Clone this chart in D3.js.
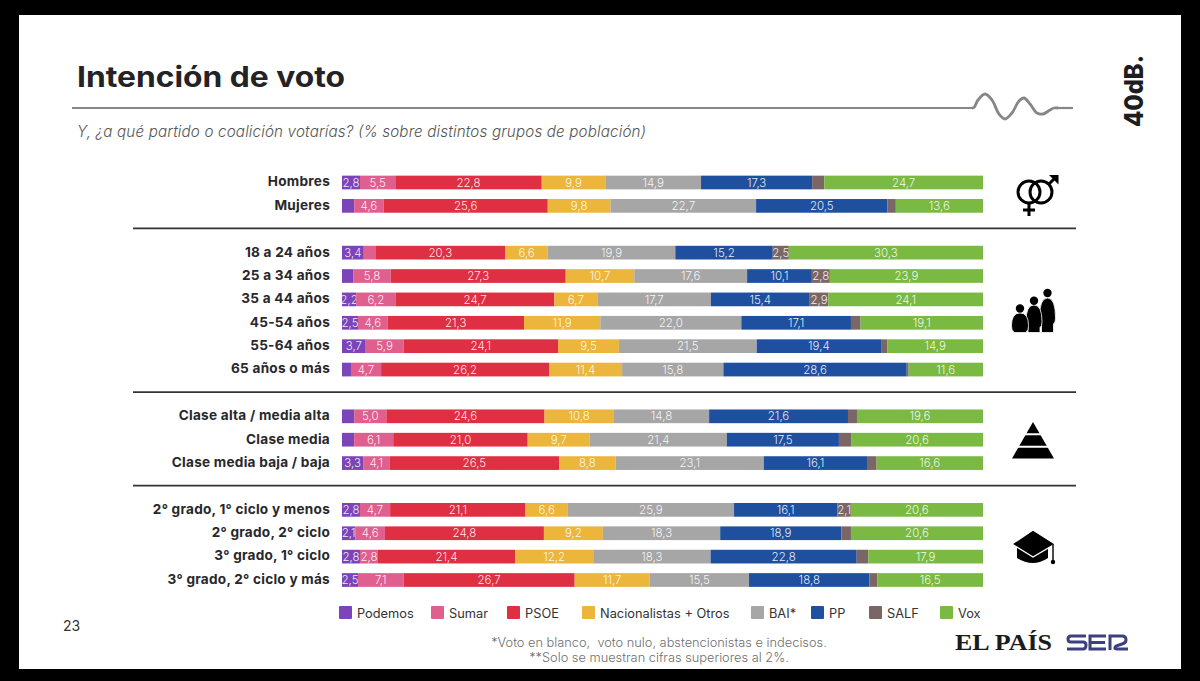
<!DOCTYPE html>
<html lang="es">
<head>
<meta charset="utf-8">
<title>Intención de voto</title>
<script src="https://cdn.jsdelivr.net/npm/d3@7"></script>
<style>
  html, body { margin: 0; padding: 0; background: #000; }
  svg { display: block; font-family: Inter, "Open Sans", sans-serif; }
</style>
</head>
<body>
<div id="chart"></div>
<script>
// Data (decimals as printed, unlabelled segments estimated from width)
const groups = ['Hombres', 'Mujeres', '18 a 24 años', '25 a 34 años', '35 a 44 años', '45-54 años',
  '55-64 años', '65 años o más', 'Clase alta / media alta', 'Clase media', 'Clase media baja / baja',
  '2° grado, 1° ciclo y menos', '2° grado, 2° ciclo', '3° grado, 1° ciclo', '3° grado, 2° ciclo y más'];
const parties = ['Podemos', 'Sumar', 'PSOE', 'Nacionalistas + Otros', 'BAI*', 'PP', 'SALF', 'Vox'];

const podemos = [2.8, 1.9, 3.4, 1.8, 2.2, 2.5, 3.7, 1.4, 1.9, 1.9, 3.3, 2.8, 2.1, 2.8, 2.5];
const sumar = [5.5, 4.6, 1.8, 5.8, 6.2, 4.6, 5.9, 4.7, 5.0, 6.1, 4.1, 4.7, 4.6, 2.8, 7.1];
const psoe = [22.8, 25.6, 20.3, 27.3, 24.7, 21.3, 24.1, 26.2, 24.6, 21.0, 26.5, 21.1, 24.8, 21.4, 26.7];
const nacionalistas = [9.9, 9.8, 6.6, 10.7, 6.7, 11.9, 9.5, 11.4, 10.8, 9.7, 8.8, 6.6, 9.2, 12.2, 11.7];
const bai = [14.9, 22.7, 19.9, 17.6, 17.7, 22.0, 21.5, 15.8, 14.8, 21.4, 23.1, 25.9, 18.3, 18.3, 15.5];
const pp = [17.3, 20.5, 15.2, 10.1, 15.4, 17.1, 19.4, 28.6, 21.6, 17.5, 16.1, 16.1, 18.9, 22.8, 18.8];
const salf = [1.9, 1.3, 2.5, 2.8, 2.9, 1.5, 1.0, 0.3, 1.4, 1.9, 1.5, 2.1, 1.5, 1.8, 1.2];
const vox = [24.7, 13.6, 30.3, 23.9, 24.1, 19.1, 14.9, 11.6, 19.6, 20.6, 16.6, 20.6, 20.6, 17.9, 16.5];

const partyValues = [podemos, sumar, psoe, nacionalistas, bai, pp, salf, vox];
const partyColors = ['#7b44b8', '#df5f8e', '#df2f43', '#ecb53c', '#a6a6a6', '#1f50a0', '#7b6666', '#7ab942'];

// Rows of the y band, the gaps hold the separators between population groups
const rows = [...groups.slice(0, 2), 'gap1', ...groups.slice(2, 8), 'gap2', ...groups.slice(8, 11), 'gap3', ...groups.slice(11)];
const table = groups.map((g, i) => {
  const row = { group: g };
  parties.forEach((p, j) => { row[p] = partyValues[j][i]; });
  return row;
});

const width = 1200;
const height = 681;
const svg = d3.select('#chart').append('svg')
  .attr('width', width)
  .attr('height', height)
  .attr('viewBox', `0 0 ${width} ${height}`);

// Slide on black background
svg.append('rect').attr('x', 19).attr('y', 15).attr('width', 1162).attr('height', 654).attr('fill', '#fff');

const x = d3.scaleLinear().domain([0, 1]).range([342, 983]);
const y = d3.scaleBand().domain(rows).range([170.8, 591.7]).paddingInner(0.414).paddingOuter(0.207);
const color = d3.scaleOrdinal().domain(parties).range(partyColors);
const fmt = d3.formatLocale({ decimal: ',', thousands: '.', grouping: [3], currency: ['', '€'] }).format('.1f');

const series = d3.stack().keys(parties).offset(d3.stackOffsetExpand)(table);

// Header
svg.append('text').attr('x', 77).attr('y', 87)
  .attr('font-size', 28).attr('font-weight', 700).attr('fill', '#232326')
  .attr('textLength', 268).attr('lengthAdjust', 'spacingAndGlyphs')
  .text('Intención de voto');

svg.append('text').attr('x', 77).attr('y', 137)
  .attr('font-size', 15.2).attr('font-style', 'italic').attr('font-weight', 300).attr('fill', '#555')
  .attr('textLength', 569).attr('lengthAdjust', 'spacing')
  .text('Y, ¿a qué partido o coalición votarías? (% sobre distintos grupos de población)');

const wave = d3.line().curve(d3.curveCatmullRom.alpha(0.5));
svg.append('path')
  .attr('d', wave([[972, 108], [974, 107.5], [978, 100], [985, 94], [992, 100], [999, 114], [1005, 119], [1012, 113], [1019, 101], [1024, 98], [1030, 104], [1037, 113], [1043, 114], [1050, 110], [1054, 108], [1058, 108]]))
  .attr('fill', 'none').attr('stroke', '#868686').attr('stroke-width', 2.8);
svg.append('line').attr('x1', 72).attr('x2', 973).attr('y1', 108).attr('y2', 108).attr('stroke', '#868686').attr('stroke-width', 2.2);
svg.append('line').attr('x1', 1057).attr('x2', 1073).attr('y1', 108).attr('y2', 108).attr('stroke', '#868686').attr('stroke-width', 2.2);

svg.append('text')
  .attr('transform', 'translate(1143,127) rotate(-90)')
  .attr('font-size', 26).attr('font-weight', 800).attr('fill', '#1d1d1f')
  .attr('textLength', 72).attr('lengthAdjust', 'spacingAndGlyphs')
  .text('40dB.');

// Separators
svg.selectAll('.sep').data(['gap1', 'gap2', 'gap3']).join('line')
  .attr('class', 'sep')
  .attr('x1', 133).attr('x2', 1076)
  .attr('y1', d => y(d) + y.bandwidth() / 2 - 0.8)
  .attr('y2', d => y(d) + y.bandwidth() / 2 - 0.8)
  .attr('stroke', '#333').attr('stroke-width', 1.8);

// Stacked bars
const layer = svg.selectAll('.layer').data(series).join('g')
  .attr('class', 'layer')
  .attr('fill', d => color(d.key));

layer.selectAll('rect').data(d => d).join('rect')
  .attr('x', d => x(d[0]))
  .attr('y', d => y(d.data.group))
  .attr('width', d => x(d[1]) - x(d[0]))
  .attr('height', y.bandwidth());

// Only figures of 2% or more get a label
layer.each(function (s) {
  d3.select(this).selectAll('text')
    .data(s.filter(d => d.data[s.key] >= 2))
    .join('text')
    .attr('x', d => (x(d[0]) + x(d[1])) / 2)
    .attr('y', d => y(d.data.group) + y.bandwidth() / 2)
    .attr('dy', '0.36em')
    .attr('text-anchor', 'middle')
    .attr('font-size', 11.5)
    .attr('font-weight', 300)
    .attr('fill', '#fff')
    .attr('fill-opacity', 0.9)
    .text(d => fmt(d.data[s.key]));
});

// Category labels
const axis = svg.append('g')
  .attr('transform', 'translate(342,-0.5)')
  .call(d3.axisLeft(y).tickValues(groups).tickSize(0).tickPadding(12));
axis.select('.domain').remove();
axis.selectAll('text')
  .attr('font-family', 'Inter, sans-serif')
  .attr('font-size', 13.6)
  .attr('font-weight', 700)
  .attr('letter-spacing', 0.25)
  .attr('fill', '#28282b');

// Legend, offsets follow the uneven spacing of the original slide
const legendX = [339, 431, 507, 582, 751, 811, 869, 940];
const legend = svg.selectAll('.legend').data(parties).join('g')
  .attr('class', 'legend')
  .attr('transform', (d, i) => `translate(${legendX[i]},606)`);
legend.append('rect')
  .attr('width', 13).attr('height', 13).attr('rx', 1)
  .attr('fill', d => color(d));
legend.append('text')
  .attr('x', 18).attr('y', 12)
  .attr('font-size', 12.8).attr('fill', '#333')
  .text(d => d);

// Footer
svg.append('text').attr('x', 63).attr('y', 631).attr('font-size', 14).attr('fill', '#333').text('23');
const notes = ['*Voto en blanco,  voto nulo, abstencionistas e indecisos.', '**Solo se muestran cifras superiores al 2%.'];
svg.selectAll('.note').data(notes).join('text')
  .attr('class', 'note')
  .attr('x', 659)
  .attr('y', (d, i) => 647 + i * 15)
  .attr('text-anchor', 'middle')
  .attr('font-size', 12.8)
  .attr('font-weight', 300)
  .attr('fill', '#6f6f6f')
  .style('white-space', 'pre')
  .text(d => d);

svg.append('text').attr('x', 955).attr('y', 650)
  .attr('font-family', '"Liberation Serif", serif')
  .attr('font-size', 24).attr('font-weight', 700).attr('fill', '#1b1b1b')
  .attr('textLength', 97).attr('lengthAdjust', 'spacingAndGlyphs')
  .text('EL PAÍS');

// SER logo as strokes
const ser = svg.append('g').attr('fill', 'none').attr('stroke', '#3c4080').attr('stroke-width', 3);
ser.append('path').attr('d', 'M1086,636 H1071 Q1068,636 1068,639 Q1068,642 1071,642 H1083 Q1086,642 1086,645 Q1086,649 1083,649 H1067');
ser.append('path').attr('d', 'M1106,636 H1090 V649 H1106 M1090,642.5 H1105');
ser.append('path').attr('d', 'M1110,650 V636 H1122 Q1126,636 1126,640 Q1126,643 1122,644 L1116,646 Q1113,649 1117,649 H1128');

// Icons
function gender(g) {
  const k = g.append('g').attr('fill', 'none').attr('stroke', '#000').attr('stroke-width', 3);
  k.append('circle').attr('cx', 1029).attr('cy', 192).attr('r', 11);
  k.append('circle').attr('cx', 1041).attr('cy', 192).attr('r', 11);
  k.append('path').attr('d', 'M1029,203 V216 M1023,210 H1035 M1049,184 L1056,177');
  g.append('path').attr('d', 'M1049,175 H1058.5 V184.5 Z').attr('fill', '#000');
}

function family(g) {
  // drawn tallest first so the smaller figures sit in front
  const person = [[1047.5, 293, 8, 298], [1034, 300.7, 8, 305], [1020, 308.5, 8.5, 313]];
  person.forEach(([cx, cy, hw, top]) => {
    const mid = (top + 332) / 2 + 3;
    g.append('path').attr('fill', '#000').attr('stroke', '#fff').attr('stroke-width', 0.8)
      .attr('d', `M${cx - hw},${mid} Q${cx - hw},${top} ${cx},${top} Q${cx + hw},${top} ${cx + hw},${mid} Q${cx + hw},${mid + 5} ${cx + hw - 2},${mid + 6} V332.5 H${cx - hw + 2} V${mid + 6} Q${cx - hw},${mid + 5} ${cx - hw},${mid} Z`);
    g.append('circle').attr('cx', cx).attr('cy', cy).attr('r', 4.2).attr('fill', '#000');
  });
}

function pyramid(g) {
  g.append('path').attr('d', 'M1033,422 L1054,458.5 H1012 Z').attr('fill', '#000');
  g.selectAll('.cut').data([434.3, 446.7]).join('line')
    .attr('x1', 1010).attr('x2', 1056)
    .attr('y1', d => d).attr('y2', d => d)
    .attr('stroke', '#fff').attr('stroke-width', 2);
}

function cap(g) {
  g.append('path').attr('d', 'M1017,548 V558 Q1033,568 1048,558 V548 Z').attr('fill', '#000');
  g.append('path').attr('d', 'M1033,530 L1055,544 L1033,557 L1012,544 Z').attr('fill', '#000').attr('stroke', '#fff').attr('stroke-width', 1.4);
  g.append('line').attr('x1', 1053).attr('x2', 1053).attr('y1', 544).attr('y2', 561).attr('stroke', '#000').attr('stroke-width', 1.4);
  g.append('circle').attr('cx', 1053).attr('cy', 562).attr('r', 2.2).attr('fill', '#000');
}

[gender, family, pyramid, cap].forEach(draw => draw(svg.append('g')));
</script>
</body>
</html>
